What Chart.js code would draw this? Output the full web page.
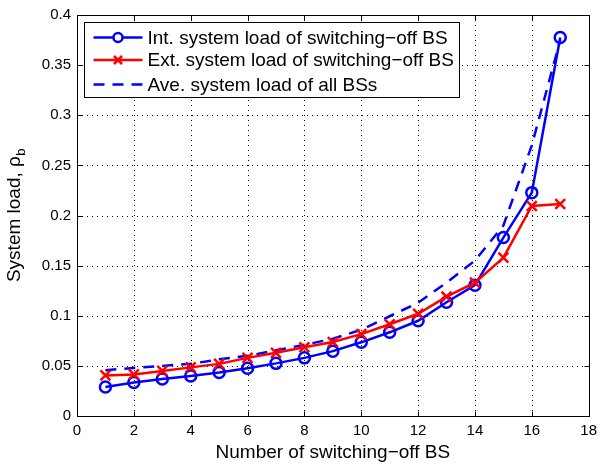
<!DOCTYPE html>
<html>
<head>
<meta charset="utf-8">
<script src="https://cdn.jsdelivr.net/npm/chart.js@4.4.1/dist/chart.umd.min.js"></script>
<style>
  html, body { margin: 0; padding: 0; background: #fff; }
  canvas { display: block; }
</style>
</head>
<body>
<canvas id="c" width="603" height="466"></canvas>
<script>
// Number of switched-off base stations
const switchedOff = [1, 2, 3, 4, 5, 6, 7, 8, 9, 10, 11, 12, 13, 14, 15, 16, 17];
// Internal system load of the switching-off BS
const intLoad = [0.029, 0.0335, 0.037, 0.040, 0.0435, 0.0477, 0.0525, 0.058, 0.0647, 0.0735, 0.0835, 0.095, 0.1135, 0.1305, 0.178, 0.2228, 0.3775];
// External system load of the switching-off BS
const extLoad = [0.0405, 0.0415, 0.045, 0.0485, 0.052, 0.058, 0.063, 0.0686, 0.0738, 0.0817, 0.0915, 0.102, 0.119, 0.133, 0.158, 0.2095, 0.2115];
// Average system load of all BSs
const aveLoad = [0.0457, 0.048, 0.050, 0.052, 0.0565, 0.060, 0.0655, 0.071, 0.077, 0.086, 0.0995, 0.113, 0.133, 0.155, 0.19, 0.27, 0.375];

const xTicks = [0, 2, 4, 6, 8, 10, 12, 14, 16, 18];
const yTicks = [0, 0.05, 0.1, 0.15, 0.2, 0.25, 0.3, 0.35, 0.4];

const seriesLabels = [
  'Int. system load of switching\u2212off BS',
  'Ext. system load of switching\u2212off BS',
  'Ave. system load of all BSs'
];
const xTitle = 'Number of switching\u2212off BS';
const yTitleMain = 'System load, \u03c1';
const yTitleSub = 'b';

const FONT = '"Liberation Sans", Arial, Helvetica, sans-serif';
const TITLE_SIZE = 19;
const BLUE = '#0000ff';
const RED = '#ff0000';

const toPoints = (ys) => ys.map((y, i) => ({ x: switchedOff[i], y }));

// Dotted grid, boxed axes with inward ticks, axis titles and the legend
const framePlugin = {
  id: 'frame',
  beforeDatasetsDraw(chart) {
    const { ctx, chartArea: a, scales: { x, y } } = chart;
    ctx.save();
    ctx.strokeStyle = '#000';
    ctx.lineWidth = 1;
    ctx.setLineDash([1, 4]);
    xTicks.forEach(v => {
      const px = Math.round(x.getPixelForValue(v)) + 0.5;
      if (v === xTicks[0] || v === xTicks[xTicks.length - 1]) return;
      ctx.beginPath(); ctx.moveTo(px, a.bottom); ctx.lineTo(px, a.top); ctx.stroke();
    });
    yTicks.forEach(v => {
      const py = Math.round(y.getPixelForValue(v)) + 0.5;
      if (v === yTicks[0] || v === yTicks[yTicks.length - 1]) return;
      ctx.beginPath(); ctx.moveTo(a.left, py); ctx.lineTo(a.right, py); ctx.stroke();
    });
    ctx.restore();
  },
  afterDatasetsDraw(chart) {
    const { ctx, chartArea: a, scales: { x, y } } = chart;
    ctx.save();
    ctx.strokeStyle = '#000';
    ctx.lineWidth = 1;
    ctx.setLineDash([]);
    const L = Math.round(a.left) + 0.5, R = Math.round(a.right) + 0.5;
    const T = Math.round(a.top) + 0.5, B = Math.round(a.bottom) + 0.5;
    ctx.strokeRect(L, T, R - L, B - T);
    const tl = 5;
    xTicks.forEach(v => {
      const px = Math.round(x.getPixelForValue(v)) + 0.5;
      ctx.beginPath();
      ctx.moveTo(px, B); ctx.lineTo(px, B - tl);
      ctx.moveTo(px, T); ctx.lineTo(px, T + tl);
      ctx.stroke();
    });
    yTicks.forEach(v => {
      const py = Math.round(y.getPixelForValue(v)) + 0.5;
      ctx.beginPath();
      ctx.moveTo(L, py); ctx.lineTo(L + tl, py);
      ctx.moveTo(R, py); ctx.lineTo(R - tl, py);
      ctx.stroke();
    });

    // x-axis title
    ctx.fillStyle = '#000';
    ctx.font = TITLE_SIZE + 'px ' + FONT;
    ctx.textAlign = 'center';
    ctx.textBaseline = 'middle';
    ctx.fillText(xTitle, (a.left + a.right) / 2, 453);

    // y-axis title with subscript
    ctx.save();
    ctx.translate(15, (a.top + a.bottom) / 2);
    ctx.rotate(-Math.PI / 2);
    ctx.font = TITLE_SIZE + 'px ' + FONT;
    const wMain = ctx.measureText(yTitleMain).width;
    ctx.font = '13px ' + FONT;
    const wSub = ctx.measureText(yTitleSub).width;
    const start = -(wMain + wSub) / 2;
    ctx.textAlign = 'left';
    ctx.font = TITLE_SIZE + 'px ' + FONT;
    ctx.fillText(yTitleMain, start, 0);
    ctx.font = '13px ' + FONT;
    ctx.fillText(yTitleSub, start + wMain + 0.5, 6);
    ctx.restore();

    // legend
    const bx = a.left + 7.5, by = a.top + 7.5, bw = 375, bh = 75;
    ctx.fillStyle = '#fff';
    ctx.fillRect(bx, by, bw, bh);
    ctx.strokeStyle = '#000';
    ctx.lineWidth = 1;
    ctx.strokeRect(bx, by, bw, bh);
    const rows = [by + 15, by + 37.5, by + 62];
    chart.data.datasets.forEach((ds, i) => {
      const cy = rows[i];
      const x0 = bx + 9, x1 = bx + 58, xm = (x0 + x1) / 2;
      ctx.save();
      ctx.strokeStyle = ds.borderColor;
      ctx.lineWidth = ds.borderWidth;
      ctx.setLineDash(ds.borderDash || []);
      ctx.beginPath(); ctx.moveTo(x0, cy); ctx.lineTo(x1, cy); ctx.stroke();
      ctx.setLineDash([]);
      if (ds.pointStyle === 'circle' && ds.pointRadius > 0) {
        ctx.lineWidth = ds.pointBorderWidth;
        ctx.fillStyle = '#fff';
        ctx.beginPath(); ctx.arc(xm, cy, ds.pointRadius - 1, 0, Math.PI * 2);
        ctx.fill(); ctx.stroke();
      } else if (ds.pointStyle === 'crossRot' && ds.pointRadius > 0) {
        ctx.lineWidth = ds.pointBorderWidth;
        const r = 4;
        ctx.beginPath();
        ctx.moveTo(xm - r, cy - r); ctx.lineTo(xm + r, cy + r);
        ctx.moveTo(xm - r, cy + r); ctx.lineTo(xm + r, cy - r);
        ctx.stroke();
      }
      ctx.restore();
      ctx.fillStyle = '#000';
      ctx.font = TITLE_SIZE + 'px ' + FONT;
      ctx.textAlign = 'left';
      ctx.textBaseline = 'middle';
      ctx.fillText(ds.label, bx + 63, cy + 1);
    });
    ctx.restore();
  }
};

new Chart(document.getElementById('c'), {
  type: 'line',
  data: {
    datasets: [
      {
        label: seriesLabels[0],
        data: toPoints(intLoad),
        borderColor: BLUE,
        backgroundColor: 'rgba(0,0,0,0)',
        borderWidth: 2.5,
        pointStyle: 'circle',
        pointRadius: 5.5,
        pointBorderWidth: 2.5,
        pointBorderColor: BLUE,
        pointBackgroundColor: 'rgba(0,0,0,0)',
        tension: 0,
        order: 2
      },
      {
        label: seriesLabels[1],
        data: toPoints(extLoad),
        borderColor: RED,
        backgroundColor: 'rgba(0,0,0,0)',
        borderWidth: 2.5,
        pointStyle: 'crossRot',
        pointRadius: 7,
        pointBorderWidth: 2.5,
        pointBorderColor: RED,
        tension: 0,
        order: 1
      },
      {
        label: seriesLabels[2],
        data: toPoints(aveLoad),
        borderColor: BLUE,
        backgroundColor: 'rgba(0,0,0,0)',
        borderWidth: 2.5,
        borderDash: [11, 8],
        pointRadius: 0,
        tension: 0,
        order: 3
      }
    ]
  },
  options: {
    responsive: false,
    animation: false,
    devicePixelRatio: 1,
    layout: { padding: { top: 8, right: 8, left: 0, bottom: 0 } },
    plugins: {
      legend: { display: false },
      tooltip: { enabled: false }
    },
    scales: {
      x: {
        type: 'linear',
        min: 0,
        max: 18,
        afterBuildTicks: (s) => { s.ticks = xTicks.map(v => ({ value: v })); },
        afterFit: (s) => { s.height = 50; },
        grid: { display: false, drawTicks: false },
        border: { display: false },
        ticks: {
          color: '#000',
          font: { family: FONT, size: 15 },
          padding: 6,
          maxRotation: 0,
          callback: (v) => String(v)
        }
      },
      y: {
        type: 'linear',
        min: 0,
        max: 0.4,
        afterBuildTicks: (s) => { s.ticks = yTicks.map(v => ({ value: v })); },
        afterFit: (s) => { s.width = 77; },
        grid: { display: false, drawTicks: false },
        border: { display: false },
        ticks: {
          color: '#000',
          font: { family: FONT, size: 15 },
          padding: 6,
          callback: (v) => String(Number(v.toFixed(2)))
        }
      }
    }
  },
  plugins: [framePlugin]
});
</script>
</body>
</html>
